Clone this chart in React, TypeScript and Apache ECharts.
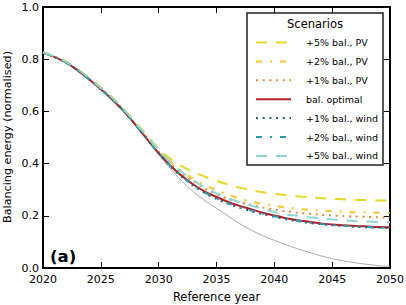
import React, { useEffect, useRef } from "react";
import * as echarts from "echarts";

const years = [2020, 2021, 2022, 2023, 2024, 2025, 2026, 2027, 2028, 2029, 2030, 2031, 2032, 2033, 2034, 2035, 2036, 2037, 2038, 2039, 2040, 2041, 2042, 2043, 2044, 2045, 2046, 2047, 2048, 2049, 2050];

const noBalancing = [0.825, 0.808, 0.787, 0.757, 0.722, 0.685, 0.645, 0.6, 0.547, 0.491, 0.435, 0.382, 0.333, 0.292, 0.258, 0.229, 0.199, 0.17, 0.145, 0.124, 0.106, 0.089, 0.074, 0.06, 0.047, 0.036, 0.027, 0.02, 0.014, 0.009, 0.006];
const pv5 = [0.827, 0.81, 0.791, 0.762, 0.729, 0.692, 0.653, 0.608, 0.558, 0.507, 0.457, 0.418, 0.39, 0.368, 0.35, 0.334, 0.32, 0.308, 0.298, 0.29, 0.284, 0.279, 0.275, 0.271, 0.268, 0.265, 0.263, 0.261, 0.26, 0.259, 0.258];
const pv2 = [0.826, 0.809, 0.789, 0.759, 0.725, 0.688, 0.649, 0.604, 0.553, 0.501, 0.45, 0.406, 0.371, 0.342, 0.318, 0.298, 0.281, 0.266, 0.254, 0.245, 0.238, 0.232, 0.227, 0.223, 0.22, 0.218, 0.216, 0.214, 0.213, 0.212, 0.211];
const pv1 = [0.826, 0.809, 0.788, 0.758, 0.724, 0.687, 0.647, 0.602, 0.551, 0.498, 0.446, 0.401, 0.363, 0.332, 0.305, 0.283, 0.265, 0.252, 0.242, 0.232, 0.224, 0.218, 0.212, 0.208, 0.204, 0.201, 0.199, 0.197, 0.196, 0.194, 0.193];
const optimal = [0.825, 0.808, 0.787, 0.757, 0.722, 0.685, 0.645, 0.6, 0.548, 0.494, 0.44, 0.393, 0.353, 0.32, 0.293, 0.272, 0.253, 0.238, 0.225, 0.212, 0.201, 0.191, 0.183, 0.177, 0.171, 0.167, 0.164, 0.161, 0.159, 0.157, 0.156];
const wind1 = [0.825, 0.808, 0.787, 0.757, 0.722, 0.685, 0.645, 0.6, 0.548, 0.494, 0.439, 0.39, 0.349, 0.315, 0.287, 0.265, 0.246, 0.231, 0.218, 0.206, 0.196, 0.187, 0.18, 0.173, 0.168, 0.164, 0.161, 0.158, 0.156, 0.154, 0.153];
const wind2 = [0.825, 0.808, 0.787, 0.757, 0.722, 0.685, 0.645, 0.6, 0.548, 0.494, 0.44, 0.392, 0.351, 0.317, 0.289, 0.267, 0.248, 0.233, 0.22, 0.208, 0.198, 0.189, 0.181, 0.174, 0.169, 0.165, 0.162, 0.159, 0.157, 0.155, 0.154];
const wind5 = [0.826, 0.81, 0.79, 0.761, 0.727, 0.69, 0.651, 0.606, 0.555, 0.503, 0.451, 0.406, 0.368, 0.336, 0.308, 0.286, 0.268, 0.252, 0.239, 0.226, 0.214, 0.206, 0.2, 0.194, 0.19, 0.186, 0.183, 0.18, 0.178, 0.176, 0.175];

const xTicks = { min: 2020, max: 2050, interval: 5 };
const yTicks = { min: 0, max: 1, interval: 0.2 };

const FONT = "DejaVu Sans";

const DASHED = [11, 9];
const DASHDOT = [6, 8, 2, 8];
const DOTTED = [2, 4.7];

const scenarios = [
  { name: "+5% bal., PV", data: pv5, color: "#e6d826", dash: DASHED },
  { name: "+2% bal., PV", data: pv2, color: "#f8c630", dash: DASHDOT },
  { name: "+1% bal., PV", data: pv1, color: "#ef8636", dash: DOTTED },
  { name: "bal. optimal", data: optimal, color: "#b81f24", dash: null as number[] | null },
  { name: "+1% bal., wind", data: wind1, color: "#2a5c88", dash: DOTTED },
  { name: "+2% bal., wind", data: wind2, color: "#2b9db2", dash: DASHDOT },
  { name: "+5% bal., wind", data: wind5, color: "#8ed6ce", dash: DASHED },
];

export default function App() {
  const ref = useRef<HTMLDivElement>(null);
  useEffect(() => {
    if (!ref.current) return;
    const chart = echarts.init(ref.current, null, { renderer: "svg" });

    const axisCommon = {
      type: "value" as const,
      axisLine: { show: true, onZero: false, lineStyle: { color: "#000", width: 2 } },
      axisTick: { show: true, inside: true, length: 6, lineStyle: { color: "#000", width: 1 } },
      splitLine: { show: false },
    };

    const series: any[] = [
      {
        type: "line",
        name: "no balancing",
        data: years.map((y, i) => [y, noBalancing[i]]),
        showSymbol: false,
        symbol: "none",
        smooth: 0.3,
        lineStyle: { color: "#aaaaaa", width: 1 },
        z: 1,
      },
      ...scenarios.map((s, k) => ({
        type: "line",
        name: s.name,
        data: years.map((y, i) => [y, s.data[i]]),
        showSymbol: false,
        symbol: "none",
        smooth: 0.3,
        lineStyle: { color: s.color, width: 2, type: s.dash ? s.dash : "solid" },
        z: 2 + k,
      })),
    ];

    const legendLeft = 247;
    const legendTop = 13;
    const legendW = 136;
    const legendH = 152;
    const graphics: any[] = [
      {
        type: "rect",
        shape: { x: legendLeft, y: legendTop, width: legendW, height: legendH },
        style: { fill: "#fff", stroke: "#222", lineWidth: 1.5 },
        z: 100,
      },
      {
        type: "text",
        x: 315,
        y: 24,
        style: { text: "Scenarios", font: `11.5px '${FONT}'`, fill: "#000", align: "center", verticalAlign: "middle" },
        z: 101,
      },
      {
        type: "text",
        x: 50,
        y: 256,
        style: { text: "(a)", font: `bold 16.5px '${FONT}'`, fill: "#000", align: "left", verticalAlign: "middle" },
        z: 101,
      },
      {
        type: "text",
        x: 7.5,
        y: 137,
        rotation: Math.PI / 2,
        style: {
          text: "Balancing energy (normalised)",
          font: `11.2px '${FONT}'`,
          fill: "#000",
          align: "center",
          verticalAlign: "middle",
        },
        z: 101,
      },
    ];
    scenarios.forEach((s, i) => {
      const yy = 42.5 + 18.9 * i;
      graphics.push({
        type: "line",
        shape: { x1: 256, y1: yy, x2: 291, y2: yy },
        style: { stroke: s.color, lineWidth: 2, lineDash: s.dash ? s.dash : null },
        z: 101,
      });
      graphics.push({
        type: "text",
        x: 306,
        y: yy,
        style: { text: s.name, font: `9.5px '${FONT}'`, fill: "#000", align: "left", verticalAlign: "middle" },
        z: 101,
      });
    });

    chart.setOption({
      animation: false,
      backgroundColor: "#fff",
      textStyle: { fontFamily: FONT },
      grid: { left: 43, right: 16, top: 7, bottom: 37, containLabel: false, outerBoundsMode: "none" },
      xAxis: [
        {
          ...axisCommon,
          position: "bottom",
          ...xTicks,
          name: "Reference year",
          nameLocation: "middle",
          nameGap: 23,
          nameTextStyle: { fontFamily: FONT, fontSize: 11.5, color: "#000" },
          axisLabel: {
            show: true,
            fontFamily: FONT,
            fontSize: 11,
            color: "#000",
            margin: 6,
            formatter: (v: number) => String(v),
          },
        },
        {
          ...axisCommon,
          position: "top",
          ...xTicks,
          axisLabel: { show: false },
        },
      ],
      yAxis: [
        {
          ...axisCommon,
          position: "left",
          ...yTicks,
          axisLabel: {
            show: true,
            fontFamily: FONT,
            fontSize: 11,
            color: "#000",
            margin: 4,
            formatter: (v: number) => v.toFixed(1),
          },
        },
        {
          ...axisCommon,
          position: "right",
          ...yTicks,
          axisLabel: { show: false },
        },
      ],
      series,
      graphic: graphics,
    });

    return () => chart.dispose();
  }, []);

  return (
    <div
      ref={ref}
      style={{ position: "fixed", left: 0, top: 0, width: 406, height: 305, background: "#fff" }}
    />
  );
}
